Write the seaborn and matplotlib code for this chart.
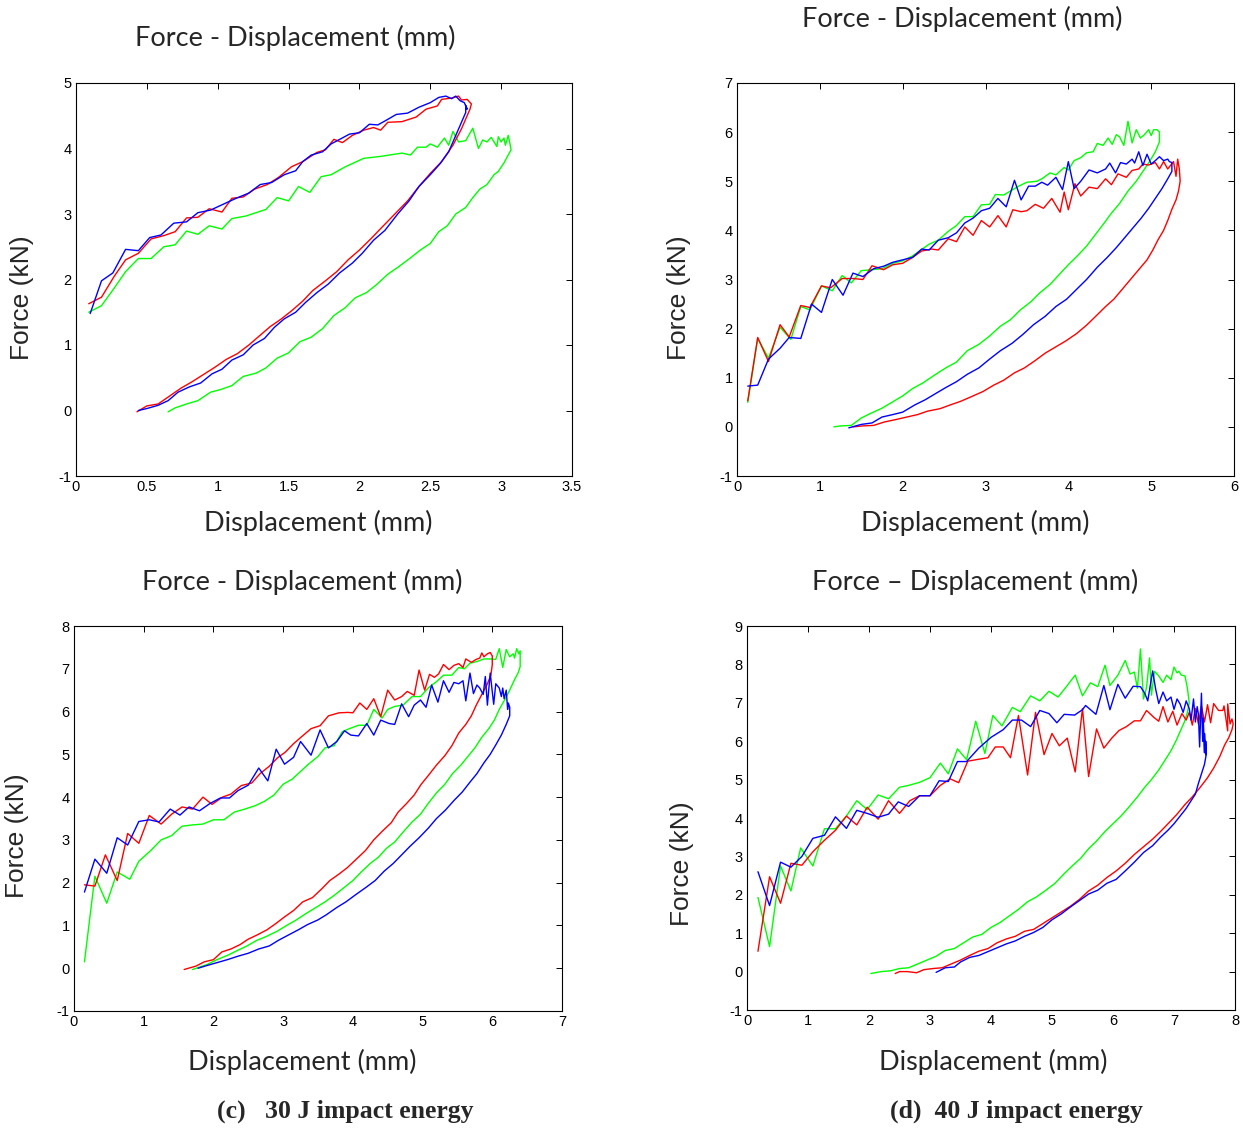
import numpy as np
import pandas as pd
import seaborn as sns
import matplotlib.pyplot as plt

# ---- data: (displacement mm, force kN) along each loop ----
a_blue = [(0.10,1.48),(0.18,1.98),(0.26,2.10),(0.35,2.46),(0.44,2.44),(0.52,2.64),(0.60,2.68),(0.69,2.86),
          (0.78,2.88),(0.86,3.02),(0.95,3.06),(1.04,3.15),(1.13,3.24),(1.22,3.32),(1.30,3.45),(1.38,3.48),
          (1.47,3.60),(1.55,3.66),(1.60,3.80),(1.66,3.90),(1.74,3.95),(1.80,4.07),(1.87,4.15),(1.93,4.22),
          (2.00,4.24),(2.07,4.37),(2.13,4.36),(2.18,4.42),(2.26,4.52),(2.34,4.54),(2.42,4.63),(2.50,4.70),
          (2.56,4.78),(2.61,4.80),(2.65,4.76),(2.68,4.80),(2.71,4.73),(2.74,4.70),(2.76,4.60),(2.75,4.66),
          (2.75,4.55),(2.72,4.40),(2.68,4.20),(2.63,3.95),(2.57,3.77),(2.50,3.60),(2.42,3.42),(2.35,3.20),
          (2.27,3.00),(2.18,2.75),(2.10,2.60),(2.02,2.40),(1.95,2.25),(1.86,2.10),(1.78,1.93),(1.70,1.80),
          (1.62,1.65),(1.55,1.50),(1.47,1.40),(1.40,1.27),(1.33,1.10),(1.25,1.00),(1.18,0.85),(1.10,0.77),
          (1.03,0.63),(0.96,0.56),(0.88,0.42),(0.80,0.36),(0.72,0.28),(0.65,0.15),(0.58,0.08),(0.50,0.03),
          (0.44,0.00)]
a_red = [(0.09,1.63),(0.18,1.73),(0.27,2.05),(0.35,2.30),(0.44,2.40),(0.53,2.62),(0.62,2.67),(0.70,2.73),
         (0.78,2.94),(0.86,2.95),(0.94,3.08),(1.03,3.03),(1.10,3.24),(1.18,3.26),(1.26,3.38),(1.35,3.45),
         (1.43,3.56),(1.52,3.72),(1.60,3.80),(1.70,3.94),(1.76,3.98),(1.82,4.14),(1.88,4.09),(1.95,4.20),
         (2.03,4.28),(2.10,4.32),(2.15,4.28),(2.20,4.40),(2.30,4.41),(2.40,4.48),(2.47,4.60),(2.55,4.65),
         (2.58,4.75),(2.65,4.77),(2.70,4.80),(2.72,4.74),(2.76,4.75),(2.79,4.68),(2.78,4.60),
         (2.76,4.50),(2.72,4.30),(2.66,4.05),(2.58,3.80),(2.50,3.62),(2.42,3.42),(2.34,3.20),(2.25,3.00),
         (2.16,2.80),(2.08,2.62),(2.00,2.45),(1.92,2.30),(1.84,2.12),(1.76,1.98),(1.67,1.83),(1.60,1.67),
         (1.52,1.52),(1.45,1.40),(1.37,1.28),(1.30,1.15),(1.22,1.00),(1.14,0.87),(1.06,0.78),(0.98,0.66),
         (0.90,0.55),(0.82,0.44),(0.74,0.34),(0.66,0.22),(0.58,0.10),(0.50,0.07),(0.43,-0.02)]
a_green = [(0.09,1.50),(0.18,1.60),(0.27,1.87),(0.35,2.12),(0.44,2.32),(0.53,2.32),(0.62,2.50),(0.70,2.53),
           (0.78,2.74),(0.86,2.69),(0.94,2.82),(1.03,2.77),(1.10,2.93),(1.20,2.97),(1.34,3.07),(1.42,3.25),
           (1.50,3.20),(1.57,3.42),(1.65,3.33),(1.73,3.57),(1.80,3.60),(1.90,3.72),(2.03,3.85),(2.15,3.88),
           (2.30,3.93),(2.36,3.90),(2.41,4.02),(2.47,4.02),(2.50,4.07),(2.55,4.02),(2.60,4.16),(2.63,4.05),
           (2.66,4.26),(2.70,4.10),(2.75,4.12),(2.80,4.31),(2.84,4.00),(2.87,4.13),(2.90,4.10),(2.93,4.17),
           (2.97,4.03),(2.98,4.18),(3.00,4.10),(3.02,4.16),(3.03,4.05),(3.05,4.20),(3.06,4.10),(3.07,3.98),
           (3.05,3.90),(3.02,3.78),(2.98,3.65),(2.95,3.60),(2.90,3.45),(2.85,3.38),(2.80,3.25),(2.75,3.10),
           (2.68,3.00),(2.62,2.82),(2.56,2.73),(2.50,2.55),(2.43,2.45),(2.36,2.33),(2.28,2.20),(2.20,2.08),
           (2.12,1.92),(2.05,1.80),(1.97,1.72),(1.90,1.57),(1.82,1.45),(1.74,1.25),(1.66,1.12),(1.58,1.05),
           (1.50,0.88),(1.42,0.80),(1.34,0.65),(1.27,0.57),(1.18,0.52),(1.10,0.38),(1.02,0.32),(0.95,0.28),
           (0.86,0.15),(0.78,0.10),(0.70,0.04),(0.65,-0.02)]

b_red = [(0.13,0.53),(0.25,1.82),(0.38,1.33),(0.52,2.08),(0.63,1.83),(0.77,2.47),(0.88,2.43),(1.02,2.87),
         (1.13,2.83),(1.27,3.02),(1.40,3.02),(1.52,3.00),(1.63,3.28),(1.77,3.20),(1.88,3.30),(2.00,3.33),
         (2.12,3.45),(2.23,3.58),(2.35,3.62),(2.43,3.60),(2.55,3.83),(2.65,3.77),(2.75,4.07),(2.85,3.90),
         (2.95,4.20),(3.05,4.07),(3.15,4.30),(3.25,4.07),(3.33,4.42),(3.43,4.38),(3.50,4.40),(3.60,4.53),
         (3.70,4.45),(3.80,4.65),(3.90,4.37),(3.95,4.78),(4.00,4.42),(4.08,4.95),(4.15,4.70),(4.25,4.88),
         (4.35,4.85),(4.45,5.05),(4.52,4.93),(4.60,5.15),(4.70,5.08),(4.77,5.22),(4.85,5.25),(4.90,5.35),
         (4.97,5.33),(5.05,5.38),(5.10,5.25),(5.15,5.40),(5.20,5.25),(5.27,5.40),(5.30,5.10),(5.32,5.45),
         (5.34,5.25),(5.35,5.00),(5.33,4.80),
         (5.30,4.62),(5.25,4.43),(5.20,4.20),(5.15,4.00),(5.08,3.80),(5.02,3.60),(4.95,3.40),(4.85,3.20),
         (4.75,3.00),(4.65,2.80),(4.55,2.60),(4.45,2.45),(4.33,2.25),(4.22,2.07),(4.10,1.90),(3.97,1.75),
         (3.85,1.63),(3.72,1.50),(3.60,1.35),(3.47,1.20),(3.35,1.10),(3.22,0.95),(3.10,0.85),(2.97,0.72),
         (2.85,0.63),(2.70,0.52),(2.58,0.45),(2.45,0.37),(2.30,0.32),(2.18,0.25),(2.05,0.20),(1.92,0.15),
         (1.78,0.10),(1.65,0.03),(1.52,0.02),(1.40,0.00)]
b_blue = [(0.13,0.83),(0.25,0.85),(0.38,1.38),(0.52,1.60),(0.63,1.82),(0.77,1.80),(0.90,2.50),(1.02,2.33),
          (1.15,3.00),(1.28,2.68),(1.40,3.13),(1.52,3.06),(1.65,3.22),(1.77,3.27),(1.88,3.35),(2.00,3.40),
          (2.12,3.45),(2.23,3.62),(2.32,3.60),(2.43,3.80),(2.55,3.85),(2.65,3.95),(2.75,4.15),(2.85,4.25),
          (2.95,4.40),(3.05,4.45),(3.15,4.65),(3.25,4.48),(3.35,5.02),(3.43,4.62),(3.52,4.90),(3.60,4.90),
          (3.68,4.98),(3.75,4.92),(3.85,5.08),(3.93,4.83),(4.00,5.40),(4.07,4.85),(4.15,5.00),(4.25,5.23),
          (4.35,5.17),(4.45,5.25),(4.50,5.37),(4.57,5.17),(4.63,5.38),(4.70,5.35),(4.77,5.45),(4.80,5.37),
          (4.85,5.60),(4.90,5.32),(4.95,5.55),(5.00,5.35),(5.05,5.42),(5.10,5.50),(5.15,5.42),(5.20,5.45),
          (5.22,5.40),(5.25,5.38),(5.25,5.20),
          (5.20,5.05),(5.13,4.85),(5.05,4.65),(4.97,4.45),(4.88,4.25),(4.78,4.05),(4.68,3.85),(4.58,3.65),
          (4.47,3.45),(4.35,3.25),(4.22,3.00),(4.10,2.80),(3.98,2.60),(3.85,2.45),(3.72,2.25),(3.58,2.08),
          (3.45,1.88),(3.32,1.70),(3.18,1.55),(3.05,1.38),(2.92,1.20),(2.78,1.07),(2.65,0.92),(2.52,0.80),
          (2.40,0.68),(2.27,0.55),(2.15,0.45),(2.00,0.30),(1.88,0.25),(1.75,0.20),(1.63,0.08),(1.50,0.05),
          (1.35,-0.02)]
b_green = [(0.13,0.50),(0.25,1.80),(0.38,1.40),(0.52,2.03),(0.65,1.78),(0.77,2.45),(0.88,2.38),(1.02,2.87),
           (1.15,2.77),(1.27,3.08),(1.38,2.93),(1.50,3.18),(1.63,3.20),(1.75,3.22),(1.88,3.33),(2.00,3.38),
           (2.12,3.48),(2.22,3.60),(2.32,3.72),(2.43,3.80),(2.55,3.98),(2.65,4.10),(2.75,4.28),(2.85,4.28),
           (2.95,4.52),(3.05,4.53),(3.12,4.73),(3.22,4.72),(3.30,4.80),(3.40,4.90),(3.50,4.98),(3.62,5.00),
           (3.68,5.05),(3.78,5.17),(3.85,5.13),(3.95,5.28),(4.00,5.23),(4.07,5.42),(4.15,5.48),(4.22,5.58),
           (4.30,5.60),(4.35,5.77),(4.42,5.73),(4.48,5.88),(4.53,5.75),(4.58,5.95),(4.62,5.90),(4.67,5.73),
           (4.72,6.22),(4.77,5.78),(4.82,6.05),(4.87,5.88),(4.92,5.95),(4.97,6.05),(5.00,5.93),(5.03,6.05),
           (5.07,6.05),(5.10,6.00),(5.10,5.80),
           (5.05,5.60),(4.98,5.40),(4.90,5.20),(4.82,5.00),(4.72,4.80),(4.62,4.55),(4.52,4.35),(4.42,4.12),
           (4.32,3.90),(4.22,3.68),(4.12,3.50),(4.00,3.30),(3.90,3.12),(3.78,2.90),(3.65,2.72),(3.55,2.55),
           (3.42,2.38),(3.30,2.18),(3.18,2.05),(3.05,1.85),(2.92,1.68),(2.78,1.55),(2.65,1.32),(2.52,1.20),
           (2.38,1.05),(2.25,0.90),(2.12,0.78),(2.00,0.63),(1.87,0.50),(1.75,0.38),(1.62,0.28),(1.50,0.18),
           (1.38,0.03),(1.25,0.02),(1.17,0.00)]

c_red = [(0.15,1.95),(0.30,1.92),(0.45,2.65),(0.62,2.05),(0.77,3.15),(0.93,2.92),(1.08,3.57),(1.25,3.37),
         (1.40,3.60),(1.55,3.77),(1.70,3.72),(1.85,4.00),(1.98,3.83),(2.13,4.00),(2.25,4.07),(2.40,4.27),
         (2.55,4.33),(2.67,4.55),(2.80,4.72),(2.92,4.92),(3.03,5.05),(3.15,5.25),(3.27,5.42),(3.40,5.60),
         (3.53,5.67),(3.65,5.90),(3.80,5.97),(3.93,5.98),(4.00,5.97),(4.10,6.20),(4.20,6.05),(4.30,6.30),
         (4.40,5.88),(4.50,6.50),(4.60,6.27),(4.70,6.35),(4.78,6.47),(4.88,6.38),(4.95,6.97),(5.03,6.50),
         (5.10,6.87),(5.17,6.80),(5.23,6.88),(5.30,7.10),(5.38,6.98),(5.45,7.08),(5.52,7.12),(5.58,7.03),
         (5.62,7.23),(5.70,7.15),(5.77,7.22),(5.82,7.25),(5.85,7.37),(5.88,7.28),(5.93,7.35),(5.97,7.38),
         (6.00,7.30),(6.00,7.10),
         (5.98,6.85),(5.93,6.65),(5.85,6.40),(5.77,6.15),(5.70,5.90),(5.62,5.70),(5.52,5.50),(5.42,5.20),
         (5.32,4.97),(5.20,4.75),(5.08,4.50),(4.98,4.30),(4.88,4.05),(4.77,3.85),(4.65,3.65),(4.55,3.40),
         (4.42,3.20),(4.30,3.00),(4.18,2.75),(4.05,2.55),(3.92,2.35),(3.80,2.20),(3.67,2.05),(3.55,1.85),
         (3.42,1.65),(3.28,1.55),(3.15,1.35),(3.02,1.20),(2.90,1.05),(2.77,0.90),(2.63,0.78),(2.50,0.68),
         (2.38,0.55),(2.25,0.45),(2.12,0.38),(2.00,0.20),(1.87,0.15),(1.75,0.05),(1.58,-0.03)]
c_blue = [(0.15,1.78),(0.30,2.55),(0.47,2.22),(0.62,3.05),(0.77,2.88),(0.93,3.43),(1.08,3.47),(1.22,3.42),
          (1.38,3.72),(1.52,3.58),(1.65,3.77),(1.80,3.68),(1.95,3.85),(2.10,3.98),(2.23,3.98),(2.35,4.15),
          (2.50,4.28),(2.65,4.68),(2.78,4.38),(2.90,5.12),(3.02,4.77),(3.15,4.93),(3.25,5.30),(3.40,4.98),
          (3.53,5.57),(3.65,5.15),(3.77,5.30),(3.88,5.55),(3.97,5.45),(4.08,5.43),(4.20,5.72),(4.30,5.45),
          (4.40,5.80),(4.52,5.72),(4.60,5.70),(4.70,6.18),(4.80,5.88),(4.88,6.15),(4.97,6.27),(5.05,6.10),
          (5.13,6.62),(5.22,6.22),(5.30,6.72),(5.38,6.45),(5.45,6.68),(5.52,6.65),(5.58,6.72),(5.62,6.25),
          (5.68,6.90),(5.73,6.42),(5.78,6.62),(5.82,6.55),(5.87,6.40),(5.90,6.82),(5.93,6.15),(5.97,6.90),
          (6.02,6.17),(6.05,6.65),(6.10,6.55),(6.13,6.35),(6.15,6.55),(6.17,6.30),(6.20,6.50),(6.22,6.05),
          (6.23,6.20),(6.25,6.10),(6.25,5.90),
          (6.20,5.70),(6.13,5.45),(6.05,5.22),(5.97,5.00),(5.88,4.80),(5.78,4.55),(5.68,4.35),(5.57,4.12),
          (5.45,3.92),(5.33,3.70),(5.20,3.50),(5.08,3.27),(4.95,3.05),(4.82,2.85),(4.70,2.65),(4.58,2.45),
          (4.45,2.27),(4.32,2.05),(4.18,1.88),(4.05,1.73),(3.90,1.55),(3.77,1.42),(3.62,1.25),(3.50,1.13),
          (3.35,1.02),(3.22,0.90),(3.08,0.78),(2.93,0.65),(2.80,0.52),(2.65,0.45),(2.50,0.35),(2.35,0.28),
          (2.20,0.20),(2.05,0.13),(1.90,0.06),(1.78,0.00)]
c_green = [(0.15,0.15),(0.30,2.15),(0.47,1.52),(0.62,2.25),(0.80,2.08),(0.93,2.50),(1.10,2.75),(1.25,3.00),
           (1.40,3.10),(1.55,3.32),(1.70,3.35),(1.85,3.37),(2.00,3.47),(2.15,3.47),(2.30,3.65),(2.45,3.72),
           (2.60,3.80),(2.73,3.90),(2.87,4.05),(3.00,4.30),(3.13,4.42),(3.25,4.60),(3.37,4.78),(3.50,4.95),
           (3.60,5.15),(3.73,5.20),(3.85,5.53),(3.95,5.60),(4.08,5.68),(4.20,5.68),(4.30,6.05),(4.42,5.85),
           (4.50,6.05),(4.60,6.12),(4.72,6.15),(4.85,6.35),(4.97,6.35),(5.08,6.55),(5.20,6.70),(5.30,6.85),
           (5.42,6.85),(5.52,7.03),(5.60,7.00),(5.68,7.13),(5.78,7.17),(5.88,7.23),(5.97,7.23),(6.05,7.22),
           (6.10,7.47),(6.15,7.03),(6.20,7.45),(6.25,7.28),(6.30,7.35),(6.32,7.25),(6.35,7.47),(6.38,7.35),
           (6.40,7.42),(6.40,7.05),
           (6.37,6.90),(6.32,6.75),(6.25,6.50),(6.18,6.28),(6.10,6.05),(6.03,5.80),(5.95,5.60),(5.85,5.40),
           (5.75,5.15),(5.65,4.95),(5.55,4.75),(5.43,4.55),(5.32,4.30),(5.20,4.10),(5.08,3.85),(4.97,3.60),
           (4.85,3.42),(4.73,3.20),(4.60,2.95),(4.48,2.80),(4.37,2.60),(4.25,2.45),(4.12,2.25),(4.00,2.05),
           (3.87,1.88),(3.73,1.70),(3.60,1.55),(3.45,1.40),(3.32,1.27),(3.18,1.12),(3.05,1.00),(2.92,0.87),
           (2.77,0.75),(2.62,0.65),(2.48,0.52),(2.35,0.42),(2.20,0.30),(2.05,0.20),(1.90,0.08),(1.70,-0.03)]

d_red = [(0.18,0.53),(0.37,2.47),(0.55,1.78),(0.72,2.82),(0.90,2.77),(1.08,3.12),(1.27,3.42),(1.45,3.68),
         (1.63,4.05),(1.80,3.82),(1.97,4.28),(2.15,3.97),(2.32,4.45),(2.50,4.12),(2.67,4.45),(2.83,4.58),
         (3.00,4.58),(3.17,4.85),(3.33,5.02),(3.47,4.92),(3.62,5.48),(3.80,5.53),(3.95,5.57),(4.07,5.85),
         (4.20,5.85),(4.32,5.57),(4.45,6.67),(4.60,5.12),(4.73,6.75),(4.87,5.65),(5.00,6.20),(5.12,5.88),
         (5.25,6.08),(5.38,5.20),(5.50,6.85),(5.60,5.08),(5.73,6.32),(5.85,5.82),(5.98,6.08),(6.10,6.28),
         (6.22,6.38),(6.35,6.53),(6.45,6.53),(6.55,6.80),(6.67,6.62),(6.75,6.52),(6.82,6.90),(6.90,6.50),
         (6.98,6.78),(7.05,6.42),(7.13,6.72),(7.20,6.55),(7.25,6.75),(7.30,6.42),(7.35,6.85),(7.40,6.45),
         (7.45,6.92),(7.50,6.50),(7.55,6.95),(7.60,6.48),(7.65,6.98),(7.73,6.80),(7.80,6.80),(7.82,6.92),
         (7.85,6.60),(7.88,6.27),(7.88,6.97),(7.92,6.45),(7.95,6.58),(7.97,6.45),(7.95,6.30),
         (7.90,6.10),(7.83,5.90),(7.75,5.60),(7.65,5.30),(7.55,5.05),(7.43,4.80),(7.30,4.55),(7.18,4.35),
         (7.05,4.10),(6.92,3.88),(6.78,3.65),(6.65,3.45),(6.50,3.25),(6.35,3.05),(6.20,2.82),(6.05,2.62),
         (5.90,2.45),(5.75,2.25),(5.60,2.10),(5.45,1.88),(5.30,1.70),(5.15,1.55),(5.00,1.40),(4.85,1.25),
         (4.70,1.10),(4.55,1.05),(4.40,0.92),(4.25,0.85),(4.10,0.75),(3.95,0.60),(3.80,0.53),(3.65,0.42),
         (3.50,0.30),(3.35,0.20),(3.20,0.10),(3.05,0.08),(2.90,0.05),(2.78,-0.03),(2.63,0.00),(2.50,0.00),
         (2.43,-0.05)]
d_blue = [(0.18,2.60),(0.37,1.72),(0.55,2.85),(0.72,2.72),(0.90,3.00),(1.08,3.47),(1.27,3.55),(1.45,4.03),
          (1.63,3.73),(1.80,4.20),(1.97,4.12),(2.15,4.02),(2.32,4.10),(2.48,4.42),(2.65,4.30),(2.83,4.58),
          (3.00,4.58),(3.15,4.97),(3.30,4.95),(3.45,5.47),(3.60,5.47),(3.80,5.82),(4.00,6.10),(4.20,6.30),
          (4.35,6.55),(4.50,6.55),(4.65,6.38),(4.80,6.80),(4.95,6.72),(5.08,6.48),(5.20,6.70),(5.37,6.68),
          (5.50,6.82),(5.55,6.93),(5.72,6.70),(5.85,7.45),(5.95,6.82),(6.08,7.48),(6.20,7.12),(6.33,7.43),
          (6.45,7.42),(6.52,7.25),(6.57,7.05),(6.65,7.83),(6.70,7.35),(6.75,6.98),(6.82,7.28),(6.88,7.05),
          (6.95,7.15),(7.00,6.83),(7.05,7.10),(7.10,6.97),(7.15,6.75),(7.20,7.05),(7.25,6.85),(7.28,6.55),
          (7.32,7.10),(7.35,6.50),(7.38,6.90),(7.40,6.70),(7.42,5.85),(7.45,7.25),(7.47,6.00),(7.48,6.60),
          (7.50,5.70),(7.50,6.20),(7.52,5.65),(7.52,6.00),(7.53,5.67),
          (7.50,5.40),(7.45,5.15),(7.40,4.90),(7.35,4.62),(7.28,4.45),(7.20,4.25),(7.10,4.05),(7.00,3.85),
          (6.90,3.68),(6.78,3.50),(6.65,3.28),(6.50,3.10),(6.35,2.85),(6.20,2.62),(6.05,2.40),(5.90,2.30),
          (5.75,2.12),(5.60,2.02),(5.45,1.85),(5.30,1.68),(5.15,1.50),(5.00,1.35),(4.85,1.15),(4.70,1.02),
          (4.55,0.92),(4.40,0.80),(4.25,0.72),(4.10,0.62),(3.95,0.52),(3.80,0.42),(3.65,0.37),(3.50,0.25),
          (3.40,0.12),(3.25,0.10),(3.10,-0.02)]
d_green = [(0.18,1.93),(0.37,0.65),(0.55,2.75),(0.72,2.10),(0.88,3.22),(1.08,2.75),(1.27,3.72),(1.45,3.72),
           (1.63,4.05),(1.80,4.45),(1.97,4.22),(2.15,4.60),(2.32,4.50),(2.50,4.80),(2.65,4.85),(2.83,4.93),
           (3.00,5.05),(3.17,5.43),(3.30,5.15),(3.45,5.80),(3.60,5.52),(3.75,6.52),(3.90,5.68),(4.03,6.67),
           (4.18,6.40),(4.35,6.88),(4.48,6.77),(4.65,7.18),(4.80,7.05),(4.95,7.30),(5.10,7.15),(5.25,7.45),
           (5.38,7.72),(5.50,7.18),(5.63,7.52),(5.75,7.42),(5.87,7.98),(5.95,7.45),(6.08,7.72),(6.20,8.10),
           (6.28,7.75),(6.35,7.80),(6.40,7.38),(6.45,8.40),(6.50,7.10),(6.55,7.40),(6.60,8.17),(6.63,7.20),
           (6.68,7.82),(6.75,7.70),(6.82,7.53),(6.88,7.72),(6.95,7.60),(7.00,7.93),(7.05,7.78),(7.08,7.82),
           (7.12,7.72),(7.18,7.70),(7.22,7.38),(7.25,7.00),
           (7.22,6.75),(7.17,6.50),(7.10,6.25),(7.03,6.00),(6.95,5.75),(6.85,5.50),(6.75,5.25),(6.63,5.00),
           (6.52,4.80),(6.40,4.55),(6.27,4.30),(6.13,4.05),(6.00,3.85),(5.87,3.65),(5.73,3.40),(5.60,3.20),
           (5.47,2.95),(5.33,2.75),(5.20,2.55),(5.05,2.30),(4.90,2.12),(4.75,1.95),(4.60,1.82),(4.45,1.62),
           (4.30,1.45),(4.15,1.28),(4.00,1.15),(3.85,0.97),(3.70,0.90),(3.55,0.75),(3.40,0.60),(3.25,0.55),
           (3.10,0.40),(2.95,0.30),(2.80,0.20),(2.65,0.10),(2.50,0.08),(2.35,0.02),(2.20,0.00),(2.03,-0.05)]

titles = ["Force - Displacement (mm)", "Force - Displacement (mm)",
          "Force - Displacement (mm)", "Force \u2013 Displacement (mm)"]
captions = ["(c)   30 J impact energy", "(d)  40 J impact energy"]
x_limits = [(0, 3.5), (0, 6), (0, 7), (0, 8)]
y_limits = [(-1, 5), (-1, 7), (-1, 8), (-1, 9)]
x_ticks = [[0, 0.5, 1, 1.5, 2, 2.5, 3, 3.5], list(range(0, 7)), list(range(0, 8)), list(range(0, 9))]

panels = [
    {"green": a_green, "red": a_red, "blue": a_blue},
    {"green": b_green, "red": b_red, "blue": b_blue},
    {"green": c_green, "red": c_red, "blue": c_blue},
    {"green": d_green, "red": d_red, "blue": d_blue},
]
colors = {"green": "#00ff00", "red": "#ff0000", "blue": "#0000ff"}

sns.set_theme(style="white")
plt.rcParams["font.family"] = ["Liberation Sans", "DejaVu Sans"]
plt.rcParams["axes.unicode_minus"] = False

W, H = 1243, 1128
fig = plt.figure(figsize=(W / 100, H / 100), dpi=100)

# axes boxes in pixels: left, top, right, bottom
boxes = [(76, 83, 572, 476), (737, 83, 1234, 476), (74, 626, 562, 1011), (747, 626, 1235, 1010)]
title_pos = [(295, 38), (962, 19), (302, 582), (975, 582)]
xlabel_pos = [(318, 523), (975, 523), (302, 1062), (993, 1062)]
ylabel_pos = [(22, 298), (679, 298), (17, 836), (682, 864)]

lab_font = ["Lato", "DejaVu Sans"]
for i, (l, t, r, b) in enumerate(boxes):
    ax = fig.add_axes([l / W, 1 - b / H, (r - l) / W, (b - t) / H])
    for name in ["green", "red", "blue"]:
        pts = np.array(panels[i][name])
        df = pd.DataFrame({"x": pts[:, 0], "y": pts[:, 1]})
        sns.lineplot(data=df, x="x", y="y", sort=False, estimator=None, ax=ax,
                     color=colors[name], linewidth=1.0)
    ax.set_xlim(*x_limits[i])
    ax.set_ylim(*y_limits[i])
    ax.set_xticks(x_ticks[i])
    ax.set_xticklabels([f"{v:g}" for v in x_ticks[i]])
    ax.set_yticks(range(y_limits[i][0], y_limits[i][1] + 1))
    ax.set_xlabel("")
    ax.set_ylabel("")
    ax.tick_params(direction="in", length=4.5, width=0.7, top=True, right=True,
                   labelsize=10.5, colors="black", pad=3)
    for sp in ax.spines.values():
        sp.set_color("black")
        sp.set_linewidth(0.8)
    fig.text(title_pos[i][0] / W, 1 - title_pos[i][1] / H, titles[i], ha="center", va="center",
             fontsize=19.5, family=lab_font)
    fig.text(xlabel_pos[i][0] / W, 1 - xlabel_pos[i][1] / H, "Displacement (mm)", ha="center",
             va="center", fontsize=19.5, family=lab_font)
    fig.text(ylabel_pos[i][0] / W, 1 - ylabel_pos[i][1] / H, "Force (kN)", ha="center", va="center",
             rotation=90, fontsize=19)

cap_font = ["Liberation Serif", "DejaVu Serif"]
fig.text(345 / W, 1 - 1111 / H, captions[0], ha="center", va="center", fontsize=18.5,
         fontweight="bold", family=cap_font)
fig.text(1016 / W, 1 - 1111 / H, captions[1], ha="center", va="center", fontsize=18.5,
         fontweight="bold", family=cap_font)

fig.savefig("out.png", dpi=100, facecolor="white")
